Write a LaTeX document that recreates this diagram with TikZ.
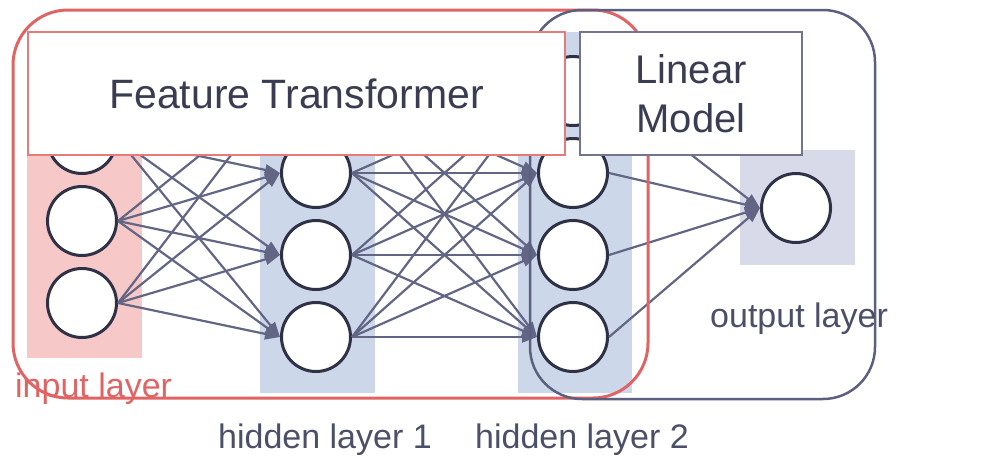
\documentclass[tikz,border=0pt]{standalone}
\usepackage{fontspec}
\setmainfont{Liberation Sans}
\usetikzlibrary{arrows.meta}

\definecolor{rahmenrot}{HTML}{E06464}
\definecolor{rahmenblau}{HTML}{5C6080}
\definecolor{kantengrau}{HTML}{626684}
\definecolor{knotengrau}{HTML}{2F3146}
\definecolor{textgrau}{HTML}{3A3C52}
\definecolor{labelgrau}{HTML}{4C4F68}
\definecolor{bandrot}{HTML}{F6C8C8}
\definecolor{bandblau}{HTML}{CCD8EA}
\definecolor{bandlila}{HTML}{D8DAEA}

\tikzset{
	knoten/.style={circle, draw=knotengrau, line width=3pt, fill=white, minimum size=69pt, inner sep=0pt},
	kante/.style={draw=kantengrau, line width=2.2pt, -{Triangle[length=15pt,width=11pt]}},
	kasten/.style={rectangle, fill=white, line width=1.5pt, minimum height=123pt, inner sep=0pt},
	schicht/.style={font=\fontsize{34}{40}\selectfont, anchor=base west, inner sep=0pt},
}

\begin{document}
\begin{tikzpicture}[x=1pt,y=-1pt]

	\useasboundingbox (0,0) rectangle (990,463);

	% Hintergrund der Schichten
	\fill[bandrot]  (27,40)   rectangle (142,358);
	\fill[bandblau] (260,40)  rectangle (375,393);
	\fill[bandblau] (518,32)  rectangle (632,393);
	\fill[bandlila] (740,150) rectangle (855,265);

	% Knoten
	\node[knoten] (i1) at (82,139) {};
	\node[knoten] (i2) at (82,221) {};
	\node[knoten] (i3) at (82,303) {};

	\node[knoten] (h11) at (316,91)  {};
	\node[knoten] (h12) at (316,173) {};
	\node[knoten] (h13) at (316,255) {};
	\node[knoten] (h14) at (316,337) {};

	\node[knoten] (h21) at (573,91)  {};
	\node[knoten] (h22) at (573,173) {};
	\node[knoten] (h23) at (573,255) {};
	\node[knoten] (h24) at (573,337) {};

	\node[knoten] (o1) at (796,208) {};

	% Kanten Eingabe -> Schicht 1
	\draw[kante] (i1.east) -- (h11.west);
	\draw[kante] (i1.east) -- (h12.west);
	\draw[kante] (i1.east) -- (h13.west);
	\draw[kante] (i1.east) -- (h14.west);
	\draw[kante] (i2.east) -- (h11.west);
	\draw[kante] (i2.east) -- (h12.west);
	\draw[kante] (i2.east) -- (h13.west);
	\draw[kante] (i2.east) -- (h14.west);
	\draw[kante] (i3.east) -- (h11.west);
	\draw[kante] (i3.east) -- (h12.west);
	\draw[kante] (i3.east) -- (h13.west);
	\draw[kante] (i3.east) -- (h14.west);

	% Kanten Schicht 1 -> Schicht 2
	\draw[kante] (h11.east) -- (h21.west);
	\draw[kante] (h11.east) -- (h22.west);
	\draw[kante] (h11.east) -- (h23.west);
	\draw[kante] (h11.east) -- (h24.west);
	\draw[kante] (h12.east) -- (h21.west);
	\draw[kante] (h12.east) -- (h22.west);
	\draw[kante] (h12.east) -- (h23.west);
	\draw[kante] (h12.east) -- (h24.west);
	\draw[kante] (h13.east) -- (h21.west);
	\draw[kante] (h13.east) -- (h22.west);
	\draw[kante] (h13.east) -- (h23.west);
	\draw[kante] (h13.east) -- (h24.west);
	\draw[kante] (h14.east) -- (h21.west);
	\draw[kante] (h14.east) -- (h22.west);
	\draw[kante] (h14.east) -- (h23.west);
	\draw[kante] (h14.east) -- (h24.west);

	% Kanten Schicht 2 -> Ausgabe
	\draw[kante] (h21.east) -- (o1.west);
	\draw[kante] (h22.east) -- (o1.west);
	\draw[kante] (h23.east) -- (o1.west);
	\draw[kante] (h24.east) -- (o1.west);

	% Rahmen
	\draw[rahmenrot, line width=3pt, rounded corners=55pt] (13,10) rectangle (648,398);
	\draw[rahmenblau, line width=2.5pt, rounded corners=52pt] (530,10) rectangle (875,399);

	% Kaesten
	\node[kasten, draw=rahmenrot!85, minimum width=537pt, text=textgrau,
		font=\fontsize{41}{49}\selectfont] (ft) at (296.5,93.5) {Feature Transformer};
	\node[kasten, draw=kantengrau!90, minimum width=222pt, text=textgrau, align=center,
		font=\fontsize{40}{49}\selectfont] (lm) at (691,93.5) {Linear\\Model};

	% Beschriftung
	\node[schicht, text=rahmenrot] (lin)  at (15,397)  {input layer};
	\node[schicht, text=labelgrau] (lh1)  at (218,448) {hidden layer 1};
	\node[schicht, text=labelgrau] (lh2)  at (475,448) {hidden layer 2};
	\node[schicht, text=labelgrau] (lout) at (710,327) {output layer};

\end{tikzpicture}
\end{document}
